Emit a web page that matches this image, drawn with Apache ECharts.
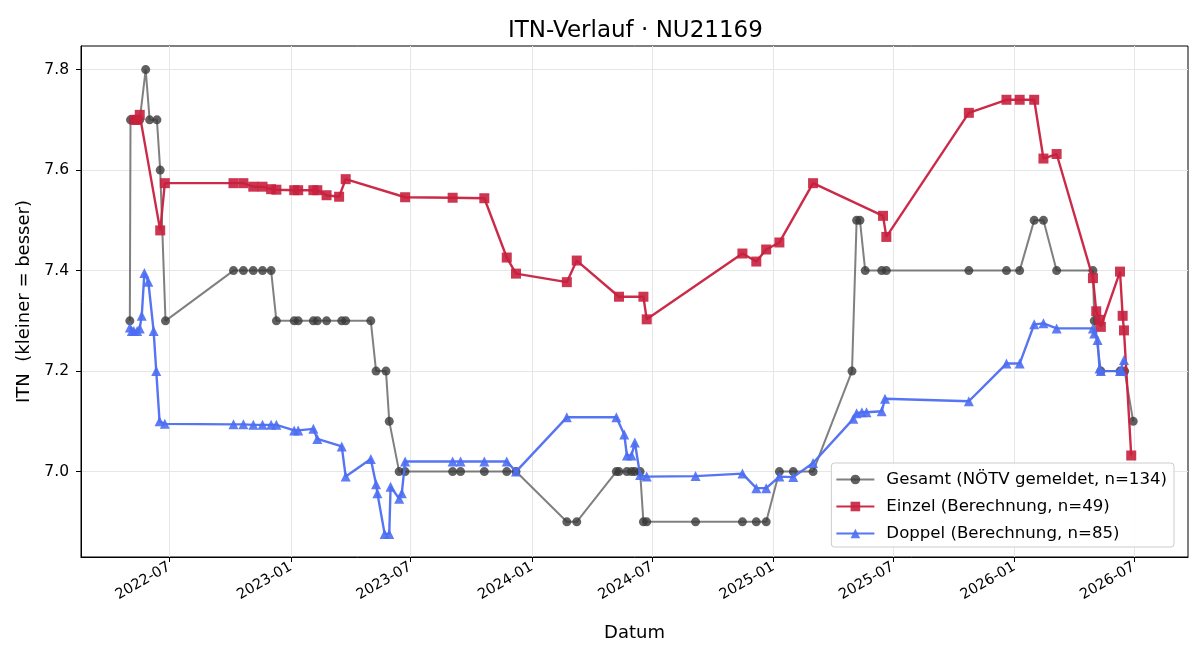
<!DOCTYPE html>
<html>
<head>
<meta charset="utf-8">
<script src="https://cdn.jsdelivr.net/npm/echarts@6/dist/echarts.min.js"></script>
<style>
  html, body { margin: 0; padding: 0; background: #fff; }
  #chart { width: 1200px; height: 660px; }
</style>
</head>
<body>
<div id="chart"></div>
<script>
// tick labels
var xTickLabels = ['2022-07', '2023-01', '2023-07', '2024-01', '2024-07', '2025-01', '2025-07', '2026-01', '2026-07'];
var yTicks = [7.0, 7.2, 7.4, 7.6, 7.8];

// Gesamt (NÖTV gemeldet)
var gesamtDates = [
  '2022-05-02', '2022-05-03', '2022-05-08', '2022-05-13', '2022-05-17', '2022-05-26', '2022-06-01', '2022-06-12',
  '2022-06-17', '2022-06-25', '2022-10-06', '2022-10-21', '2022-11-05', '2022-11-19', '2022-12-02', '2022-12-10',
  '2023-01-06', '2023-01-12', '2023-02-04', '2023-02-10', '2023-02-24', '2023-03-19', '2023-03-25', '2023-05-02',
  '2023-05-10', '2023-05-25', '2023-05-30', '2023-06-14', '2023-06-23', '2023-09-03', '2023-09-15', '2023-10-21',
  '2023-11-24', '2023-12-08', '2024-02-23', '2024-03-09', '2024-05-08', '2024-05-12', '2024-05-24', '2024-05-31',
  '2024-06-05', '2024-06-13', '2024-06-18', '2024-06-23', '2024-09-05', '2024-11-15', '2024-12-06', '2024-12-21',
  '2025-01-10', '2025-01-31', '2025-03-02', '2025-04-30', '2025-05-07', '2025-05-12', '2025-05-20', '2025-06-14',
  '2025-06-21', '2025-10-24', '2025-12-20', '2026-01-09', '2026-01-31', '2026-02-14', '2026-03-06', '2026-04-30',
  '2026-05-02', '2026-05-12', '2026-06-10', '2026-06-17', '2026-06-30'
];
var gesamtVals = [
  7.3, 7.7, 7.7, 7.7, 7.7, 7.8, 7.7, 7.7,
  7.6, 7.3, 7.4, 7.4, 7.4, 7.4, 7.4, 7.3,
  7.3, 7.3, 7.3, 7.3, 7.3, 7.3, 7.3, 7.3,
  7.2, 7.2, 7.1, 7.0, 7.0, 7.0, 7.0, 7.0,
  7.0, 7.0, 6.9, 6.9, 7.0, 7.0, 7.0, 7.0,
  7.0, 7.0, 6.9, 6.9, 6.9, 6.9, 6.9, 6.9,
  7.0, 7.0, 7.0, 7.2, 7.5, 7.5, 7.4, 7.4,
  7.4, 7.4, 7.4, 7.4, 7.5, 7.5, 7.4, 7.4,
  7.3, 7.2, 7.2, 7.2, 7.1
];

// Einzel (Berechnung)
var einzelDates = [
  '2022-05-09', '2022-05-13', '2022-05-17', '2022-06-17', '2022-06-24', '2022-10-06', '2022-10-21', '2022-11-05',
  '2022-11-19', '2022-12-02', '2022-12-10', '2023-01-06', '2023-01-12', '2023-02-04', '2023-02-10', '2023-02-24',
  '2023-03-15', '2023-03-25', '2023-06-23', '2023-09-03', '2023-10-21', '2023-11-24', '2023-12-08', '2024-02-23',
  '2024-03-09', '2024-05-12', '2024-06-18', '2024-06-23', '2024-11-15', '2024-12-06', '2024-12-21', '2025-01-10',
  '2025-03-02', '2025-06-16', '2025-06-21', '2025-10-24', '2025-12-20', '2026-01-09', '2026-01-31', '2026-02-14',
  '2026-03-06', '2026-04-30', '2026-05-05', '2026-05-10', '2026-05-12', '2026-06-10', '2026-06-14', '2026-06-16',
  '2026-06-27'
];
var einzelVals = [
  7.700, 7.700, 7.710, 7.480, 7.574, 7.574, 7.574, 7.567,
  7.567, 7.562, 7.561, 7.560, 7.560, 7.560, 7.560, 7.550,
  7.547, 7.582, 7.546, 7.545, 7.544, 7.426, 7.394, 7.377,
  7.420, 7.348, 7.348, 7.303, 7.434, 7.418, 7.442, 7.456,
  7.574, 7.509, 7.467, 7.714, 7.740, 7.740, 7.740, 7.623,
  7.632, 7.385, 7.319, 7.302, 7.288, 7.398, 7.310, 7.281,
  7.032
];

// Doppel (Berechnung)
var doppelDates = [
  '2022-05-02', '2022-05-05', '2022-05-08', '2022-05-13', '2022-05-17', '2022-05-20', '2022-05-24', '2022-05-30',
  '2022-06-07', '2022-06-11', '2022-06-16', '2022-06-24', '2022-10-06', '2022-10-21', '2022-11-05', '2022-11-19',
  '2022-12-02', '2022-12-10', '2023-01-06', '2023-01-12', '2023-02-04', '2023-02-10', '2023-03-19', '2023-03-25',
  '2023-05-02', '2023-05-10', '2023-05-12', '2023-05-23', '2023-05-30', '2023-06-01', '2023-06-14', '2023-06-18',
  '2023-06-23', '2023-09-03', '2023-09-15', '2023-10-21', '2023-11-24', '2023-12-08', '2024-02-23', '2024-05-08',
  '2024-05-20', '2024-05-24', '2024-05-31', '2024-06-05', '2024-06-13', '2024-06-23', '2024-09-05', '2024-11-15',
  '2024-12-06', '2024-12-21', '2025-01-10', '2025-01-31', '2025-03-02', '2025-05-02', '2025-05-07', '2025-05-15',
  '2025-05-22', '2025-06-14', '2025-06-19', '2025-10-24', '2025-12-20', '2026-01-09', '2026-01-31', '2026-02-14',
  '2026-03-06', '2026-04-30', '2026-05-02', '2026-05-07', '2026-05-10', '2026-05-12', '2026-06-10', '2026-06-13',
  '2026-06-16'
];
var doppelVals = [
  7.287, 7.280, 7.280, 7.280, 7.285, 7.310, 7.395, 7.378,
  7.280, 7.200, 7.100, 7.095, 7.094, 7.094, 7.093, 7.093,
  7.093, 7.093, 7.082, 7.082, 7.085, 7.065, 7.050, 6.990,
  7.025, 6.975, 6.957, 6.876, 6.876, 6.970, 6.946, 6.957,
  7.020, 7.020, 7.020, 7.020, 7.020, 7.000, 7.108, 7.108,
  7.074, 7.032, 7.032, 7.058, 6.993, 6.990, 6.991, 6.996,
  6.967, 6.967, 6.990, 6.989, 7.017, 7.105, 7.116, 7.118,
  7.118, 7.120, 7.145, 7.140, 7.215, 7.215, 7.293, 7.295,
  7.285, 7.285, 7.275, 7.262, 7.205, 7.200, 7.200, 7.200,
  7.222
];

function toTime(s) {
  return +new Date(s + 'T00:00:00');
}
function pairs(dates, vals) {
  return dates.map(function (d, i) { return [toTime(d), vals[i]]; });
}

var font = 'DejaVu Sans';
var xTickValues = xTickLabels.map(function (s) { return toTime(s + '-01'); });

var chart = echarts.init(document.getElementById('chart'));

var option = {
  animation: false,
  backgroundColor: '#fff',
  textStyle: { fontFamily: font },
  title: {
    text: 'ITN-Verlauf · NU21169',
    left: 503,
    top: 15,
    textStyle: { fontFamily: font, fontSize: 23, fontWeight: 'normal', color: '#000' }
  },
  grid: {
    left: 81, right: 12, top: 46, bottom: 103,
    show: true, borderColor: '#000', borderWidth: 1
  },
  legend: {
    orient: 'vertical',
    right: 26,
    bottom: 113,
    itemWidth: 38,
    itemHeight: 12,
    itemGap: 10,
    padding: [8, 7, 5, 4],
    borderColor: '#cccccc',
    borderWidth: 1,
    borderRadius: 3,
    backgroundColor: 'rgba(255,255,255,0.85)',
    textStyle: { fontFamily: font, fontSize: 16.6, color: '#000', padding: [0, 0, 0, 7] },
    data: ['Gesamt (NÖTV gemeldet, n=134)', 'Einzel (Berechnung, n=49)', 'Doppel (Berechnung, n=85)']
  },
  xAxis: {
    type: 'value',
    min: toTime('2022-02-17'),
    max: toTime('2026-09-21'),
    name: 'Datum',
    nameLocation: 'middle',
    nameGap: 67,
    nameTextStyle: { fontFamily: font, fontSize: 18, color: '#000' },
    axisLine: { show: true, lineStyle: { color: '#000', width: 1 } },
    axisTick: { show: true, length: 5, lineStyle: { color: '#000' }, customValues: xTickValues },
    axisLabel: {
      customValues: xTickValues,
      rotate: 30,
      margin: 9,
      fontFamily: font,
      fontSize: 14.5,
      color: '#000',
      formatter: function (v) {
        var d = new Date(v);
        var m = d.getMonth() + 1;
        return d.getFullYear() + '-' + (m < 10 ? '0' + m : m);
      }
    },
    splitLine: { show: true, lineStyle: { color: '#e6e6e6', width: 1 } }
  },
  yAxis: {
    type: 'value',
    min: 6.83,
    max: 7.847,
    name: 'ITN  (kleiner = besser)',
    nameLocation: 'middle',
    nameGap: 47,
    nameTextStyle: { fontFamily: font, fontSize: 18, color: '#000' },
    axisLine: { show: true, lineStyle: { color: '#000', width: 1 } },
    axisTick: { show: true, length: 5, lineStyle: { color: '#000' }, customValues: yTicks },
    axisLabel: {
      customValues: yTicks,
      margin: 12,
      fontFamily: font,
      fontSize: 15.5,
      color: '#000',
      formatter: function (v) { return v.toFixed(1); }
    },
    splitLine: { show: true, lineStyle: { color: '#e6e6e6', width: 1 } }
  },
  series: [
    {
      name: 'Gesamt (NÖTV gemeldet, n=134)',
      type: 'line',
      data: pairs(gesamtDates, gesamtVals),
      symbol: 'circle',
      symbolSize: 9,
      z: 2,
      lineStyle: { color: '#555555', width: 2, opacity: 0.75 },
      itemStyle: { color: '#3a3a3a', opacity: 0.8 }
    },
    {
      name: 'Einzel (Berechnung, n=49)',
      type: 'line',
      data: pairs(einzelDates, einzelVals),
      symbol: 'rect',
      symbolSize: 10,
      z: 3,
      lineStyle: { color: '#c8203e', width: 2.4, opacity: 0.95 },
      itemStyle: { color: '#c8203e', opacity: 0.9 }
    },
    {
      name: 'Doppel (Berechnung, n=85)',
      type: 'line',
      data: pairs(doppelDates, doppelVals),
      symbol: 'triangle',
      symbolSize: 10,
      z: 4,
      lineStyle: { color: '#4d6ef2', width: 2.4, opacity: 0.95 },
      itemStyle: { color: '#4d6ef2', opacity: 0.9 }
    }
  ]
};

chart.setOption(option);
</script>
</body>
</html>
